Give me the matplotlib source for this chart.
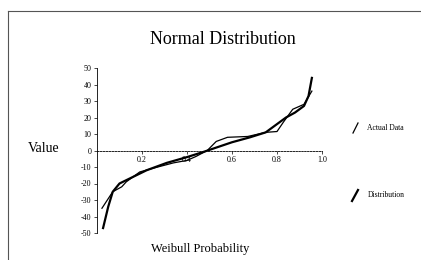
import matplotlib
matplotlib.use("Agg")
import matplotlib.pyplot as plt
from matplotlib.lines import Line2D

plt.rcParams['font.family'] = ['Liberation Serif', 'DejaVu Serif']

# Data
actual_x = [0.022, 0.07, 0.11, 0.13, 0.19, 0.27, 0.34, 0.40, 0.44, 0.49, 0.53, 0.58, 0.67, 0.75, 0.80, 0.83, 0.87, 0.92, 0.955]
actual_y = [-35, -25, -22, -19, -13, -10, -7.5, -6, -3.6, 0, 5.5, 8, 8.5, 11, 11.5, 17.5, 25, 28, 36]
dist_x = [0.027, 0.05, 0.07, 0.10, 0.16, 0.22, 0.31, 0.40, 0.47, 0.60, 0.68, 0.75, 0.84, 0.88, 0.92, 0.94, 0.955]
dist_y = [-47, -34, -25, -20, -16, -12, -7.5, -4, -1, 5, 8, 11, 20, 23, 27, 33, 44]
x_ticks = [0.2, 0.4, 0.6, 0.8, 1.0]
x_tick_labels = ['0.2', '0.4', '0.6', '0.8', '1.0']
y_ticks = [-50, -40, -30, -20, -10, 0, 10, 20, 30, 40, 50]
y_tick_labels = ['-50', '-40', '-30', '-20', '-10', '0', '10', '20', '30', '40', '50']

W, H = 421, 260
fig = plt.figure(figsize=(W/100, H/100), dpi=100)
ax = fig.add_axes([97/W, (H-233)/H, 225/W, 165/H])

ax.plot(actual_x, actual_y, color='black', lw=0.9)
ax.plot(dist_x, dist_y, color='black', lw=1.6)

ax.set_xlim(0, 1.0)
ax.set_ylim(-50, 50)
for s in ['top', 'right']:
    ax.spines[s].set_visible(False)
ax.spines['bottom'].set_position(('data', 0))
ax.spines['bottom'].set_linestyle((0, (2, 1.5)))
ax.spines['bottom'].set_linewidth(0.6)
ax.spines['left'].set_linestyle((0, (2, 1)))
ax.spines['left'].set_linewidth(0.6)
ax.set_xticks(x_ticks)
ax.set_xticklabels(x_tick_labels)
ax.set_yticks(y_ticks)
ax.set_yticklabels(y_tick_labels)
ax.tick_params(axis='both', labelsize=5.8, length=2, width=0.5, pad=2)
ax.patch.set_alpha(0)

fig.text(223/W, 1-40/H, 'Normal Distribution', ha='center', va='center', fontsize=13)
fig.text(44/W, 1-148/H, 'Value', ha='center', va='center', fontsize=10)
fig.text(200/W, 1-249/H, 'Weibull Probability', ha='center', va='center', fontsize=9)

# border
fig.add_artist(Line2D([8/W, 8/W], [0, 1-11/H], color='#555555', lw=0.8))
fig.add_artist(Line2D([8/W, 1.0], [1-11/H, 1-11/H], color='#555555', lw=0.8))

# legend
fig.add_artist(Line2D([353/W, 358/W], [1-133/H, 1-123/H], color='black', lw=0.9))
fig.text(367/W, 1-128/H, 'Actual Data', ha='left', va='center', fontsize=5.5)
fig.add_artist(Line2D([352/W, 358/W], [1-201/H, 1-190/H], color='black', lw=1.6))
fig.text(368/W, 1-195/H, 'Distribution', ha='left', va='center', fontsize=5.5)

fig.savefig('out.png', dpi=100)
